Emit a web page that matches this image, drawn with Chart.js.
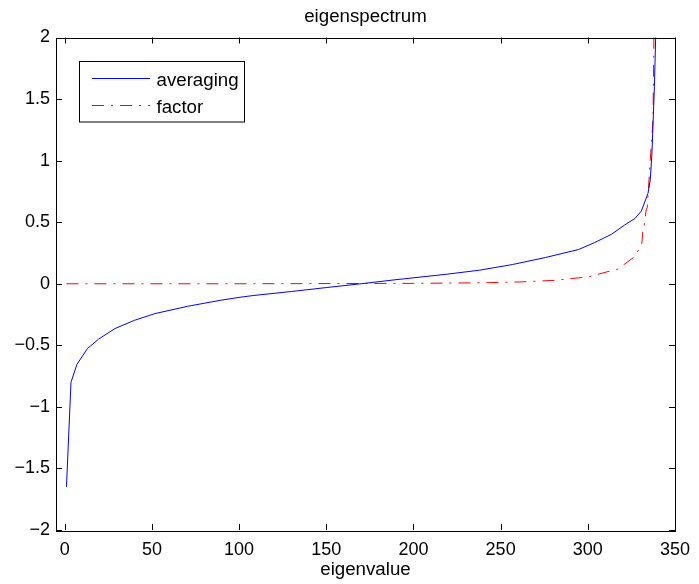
<!DOCTYPE html>
<html>
<head>
<meta charset="utf-8">
<script src="https://cdn.jsdelivr.net/npm/chart.js@4/dist/chart.umd.min.js"></script>
<style>
html,body{margin:0;padding:0;background:#fff;}
#wrap{width:699px;height:584px;position:relative;}
</style>
</head>
<body>
<div id="wrap"><canvas id="c" width="699" height="584"></canvas></div>
<script>
const chartTitle = 'eigenspectrum';
const xTitle = 'eigenvalue';
const seriesNames = ['averaging', 'factor'];
const xTicks = [0, 50, 100, 150, 200, 250, 300, 350];
const xTickLabels = ['0', '50', '100', '150', '200', '250', '300', '350'];
const yTicks = [-2, -1.5, -1, -0.5, 0, 0.5, 1, 1.5, 2];
const yTickLabels = ['\u22122', '\u22121.5', '\u22121', '\u22120.5', '0', '0.5', '1', '1.5', '2'];

const avgX = [1, 3.6, 7, 13, 19.4, 28.8, 40, 51.6, 70.5, 89.5, 99.4, 108.5, 130, 150, 170, 190, 218.8, 237.8, 256.8, 275.7, 294.7, 304, 313.6, 321, 327, 330.7, 334.5, 335.8, 336.8, 338.2, 338.9, 340];
const avgY = [-1.65, -0.80, -0.655, -0.527, -0.45, -0.364, -0.297, -0.243, -0.183, -0.134, -0.112, -0.095, -0.063, -0.031, 0, 0.033, 0.077, 0.11, 0.156, 0.213, 0.278, 0.335, 0.402, 0.476, 0.53, 0.59, 0.733, 0.84, 1.06, 1.6, 1.99, 2.8];

const facX = [1, 100, 200, 240, 262, 281.4, 294.7, 300.3, 304, 317.2, 326.7, 329.7, 331, 331.6, 332.2, 333.5, 334.1, 335.8, 337.4, 337.9, 339];
const facY = [0, 0, 0.003, 0.008, 0.015, 0.028, 0.048, 0.055, 0.07, 0.12, 0.218, 0.288, 0.33, 0.435, 0.46, 0.6, 0.62, 1.0, 1.33, 1.99, 3.2];

const FONT = 'Liberation Sans, Arial, Helvetica, sans-serif';
const TEXT_SIZE = 18.7;
const DASHDOT = [12, 7, 2, 7];

const framePlugin = {
  id: 'frame',
  afterDatasetsDraw(chart) {
    const {ctx, chartArea: a, scales} = chart;
    const xs = scales.x, ys = scales.y;
    ctx.save();
    ctx.strokeStyle = '#000';
    ctx.lineWidth = 1;
    ctx.strokeRect(Math.round(a.left) + 0.5, Math.round(a.top) + 0.5, Math.round(a.right - a.left), Math.round(a.bottom - a.top));
    const tl = 6;
    ctx.beginPath();
    xTicks.forEach(v => {
      const px = Math.round(xs.getPixelForValue(v)) + 0.5;
      ctx.moveTo(px, a.bottom); ctx.lineTo(px, a.bottom - tl);
      ctx.moveTo(px, a.top); ctx.lineTo(px, a.top + tl);
    });
    yTicks.forEach(v => {
      const py = Math.round(ys.getPixelForValue(v)) + 0.5;
      ctx.moveTo(a.left, py); ctx.lineTo(a.left + tl, py);
      ctx.moveTo(a.right, py); ctx.lineTo(a.right - tl, py);
    });
    ctx.stroke();

    // title
    ctx.fillStyle = '#000';
    ctx.font = TEXT_SIZE + 'px ' + FONT;
    ctx.textAlign = 'center';
    ctx.textBaseline = 'alphabetic';
    ctx.fillText(chartTitle, (a.left + a.right) / 2, 21.5);

    // legend
    const lx = 79.5, ly = 61.5, lw = 165, lh = 60.5;
    ctx.fillStyle = '#fff';
    ctx.fillRect(lx, ly, lw, lh);
    ctx.strokeStyle = '#000';
    ctx.strokeRect(lx, ly, lw, lh);
    const dsets = chart.data.datasets;
    const rows = [78.5, 105.5];
    const bases = [86, 112.5];
    dsets.forEach((d, i) => {
      ctx.beginPath();
      ctx.strokeStyle = d.borderColor;
      ctx.lineWidth = 1;
      ctx.setLineDash(d.borderDash || []);
      ctx.moveTo(92, rows[i]); ctx.lineTo(150, rows[i]);
      ctx.stroke();
      ctx.setLineDash([]);
      ctx.fillStyle = '#000';
      ctx.textAlign = 'left';
      ctx.font = TEXT_SIZE + 'px ' + FONT;
      ctx.fillText(seriesNames[i], 156.5, bases[i]);
    });
    ctx.restore();
  }
};

new Chart(document.getElementById('c'), {
  type: 'line',
  data: {
    datasets: [
      {
        label: seriesNames[0],
        data: avgX.map((x, i) => ({x: x, y: avgY[i]})),
        borderColor: '#0000ff',
        borderWidth: 1,
        pointRadius: 0,
        tension: 0,
        fill: false
      },
      {
        label: seriesNames[1],
        data: facX.map((x, i) => ({x: x, y: facY[i]})),
        borderColor: '#ff0000',
        borderWidth: 1,
        borderDash: DASHDOT,
        pointRadius: 0,
        tension: 0,
        fill: false
      }
    ]
  },
  options: {
    responsive: false,
    animation: false,
    devicePixelRatio: 1,
    layout: { padding: { left: 0, right: 18.5, top: 37.5, bottom: 0 } },
    plugins: { legend: { display: false }, tooltip: { enabled: false }, title: { display: false } },
    scales: {
      x: {
        type: 'linear',
        min: -5,
        max: 350,
        grid: { display: false, drawTicks: false },
        border: { display: false },
        afterBuildTicks: s => { s.ticks = xTicks.map(v => ({value: v})); },
        afterFit: s => { s.height = 54; },
        ticks: {
          color: '#000',
          padding: 9,
          maxRotation: 0,
          autoSkip: false,
          font: { family: FONT, size: 18 },
          callback: v => { const i = xTicks.indexOf(v); return i >= 0 ? xTickLabels[i] : ''; }
        },
        title: {
          display: true,
          text: xTitle,
          color: '#000',
          font: { family: FONT, size: TEXT_SIZE },
          padding: { top: 0, bottom: 3 }
        }
      },
      y: {
        type: 'linear',
        min: -2,
        max: 2,
        grid: { display: false, drawTicks: false },
        border: { display: false },
        afterBuildTicks: s => { s.ticks = yTicks.map(v => ({value: v})); },
        afterFit: s => { s.width = 56; },
        ticks: {
          color: '#000',
          padding: 6,
          autoSkip: false,
          font: { family: FONT, size: 18 },
          callback: v => { const i = yTicks.indexOf(v); return i >= 0 ? yTickLabels[i] : ''; }
        }
      }
    }
  },
  plugins: [framePlugin]
});
</script>
</body>
</html>
